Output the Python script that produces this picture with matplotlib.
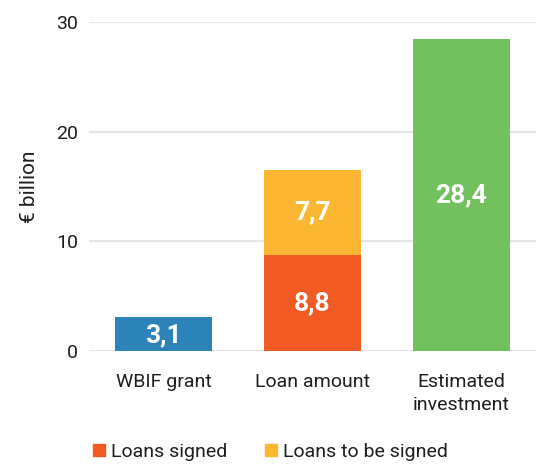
import matplotlib
matplotlib.use("Agg")
import matplotlib.pyplot as plt
from matplotlib.patches import Patch

categories = ["WBIF grant", "Loan amount", "Estimated\ninvestment"]
grant = [3.1, 0, 0]
loans_signed = [0, 8.8, 0]
loans_to_sign = [0, 7.7, 0]
investment = [0, 0, 28.4]
yticks = [0, 10, 20, 30]

c_blue = "#2b83ba"
c_orange = "#f15a22"
c_yellow = "#fbb731"
c_green = "#72c15e"
txt = "#1e1e1e"

plt.rcParams['font.family'] = ['Roboto', 'DejaVu Sans']

fig = plt.figure(figsize=(5.36, 4.65), dpi=100)
ax = fig.add_axes([0.166, 0.245, 0.834, 0.708])

x = list(range(len(categories)))
w = 0.655
ax.bar(x[0], grant[0], width=w, color=c_blue, zorder=3)
ax.bar(x[1], loans_signed[1], width=w, color=c_orange, zorder=3)
ax.bar(x[1], loans_to_sign[1], bottom=loans_signed[1], width=w, color=c_yellow, zorder=3)
ax.bar(x[2], investment[2], width=w, color=c_green, zorder=3)

def fmt(v):
    return f"{v:.1f}".replace(".", ",")

lab = dict(color="white", fontsize=19, fontweight="bold", ha="center", va="center", zorder=4)
ax.text(x[0], grant[0] / 2 - 0.1, fmt(grant[0]), **lab)
ax.text(x[1], loans_signed[1] / 2, fmt(loans_signed[1]), **lab)
ax.text(x[1], loans_signed[1] + loans_to_sign[1] / 2, fmt(loans_to_sign[1]), **lab)
ax.text(x[2], investment[2] / 2, fmt(investment[2]), **lab)

ax.set_xlim(-0.5, 2.5)
ax.set_ylim(0, 30)
ax.set_yticks(yticks)
ax.set_yticklabels([str(t) for t in yticks], fontsize=14, color=txt)
ax.set_xticks(x)
ax.set_xticklabels(categories, fontsize=14, color=txt, linespacing=1.35)
ax.tick_params(axis="both", length=0)
ax.tick_params(axis="x", pad=16)
ax.tick_params(axis="y", pad=8)
for s in ax.spines.values():
    s.set_visible(False)
ax.grid(axis="y", color="#e3e7ec", linewidth=1.6, zorder=0)
ax.set_axisbelow(True)
ax.set_ylabel("€ billion", fontsize=15, color=txt, labelpad=12)

handles = [Patch(color=c_orange, label="Loans signed"),
           Patch(color=c_yellow, label="Loans to be signed")]
fig.legend(handles=handles, loc="center left", bbox_to_anchor=(0.1735, 0.028),
           ncol=2, frameon=False, fontsize=14, handlelength=0.62, handleheight=0.62,
           handletextpad=0.31, columnspacing=1.95, labelcolor=txt, borderpad=0,
           borderaxespad=0)

fig.savefig("out.png", dpi=100)
